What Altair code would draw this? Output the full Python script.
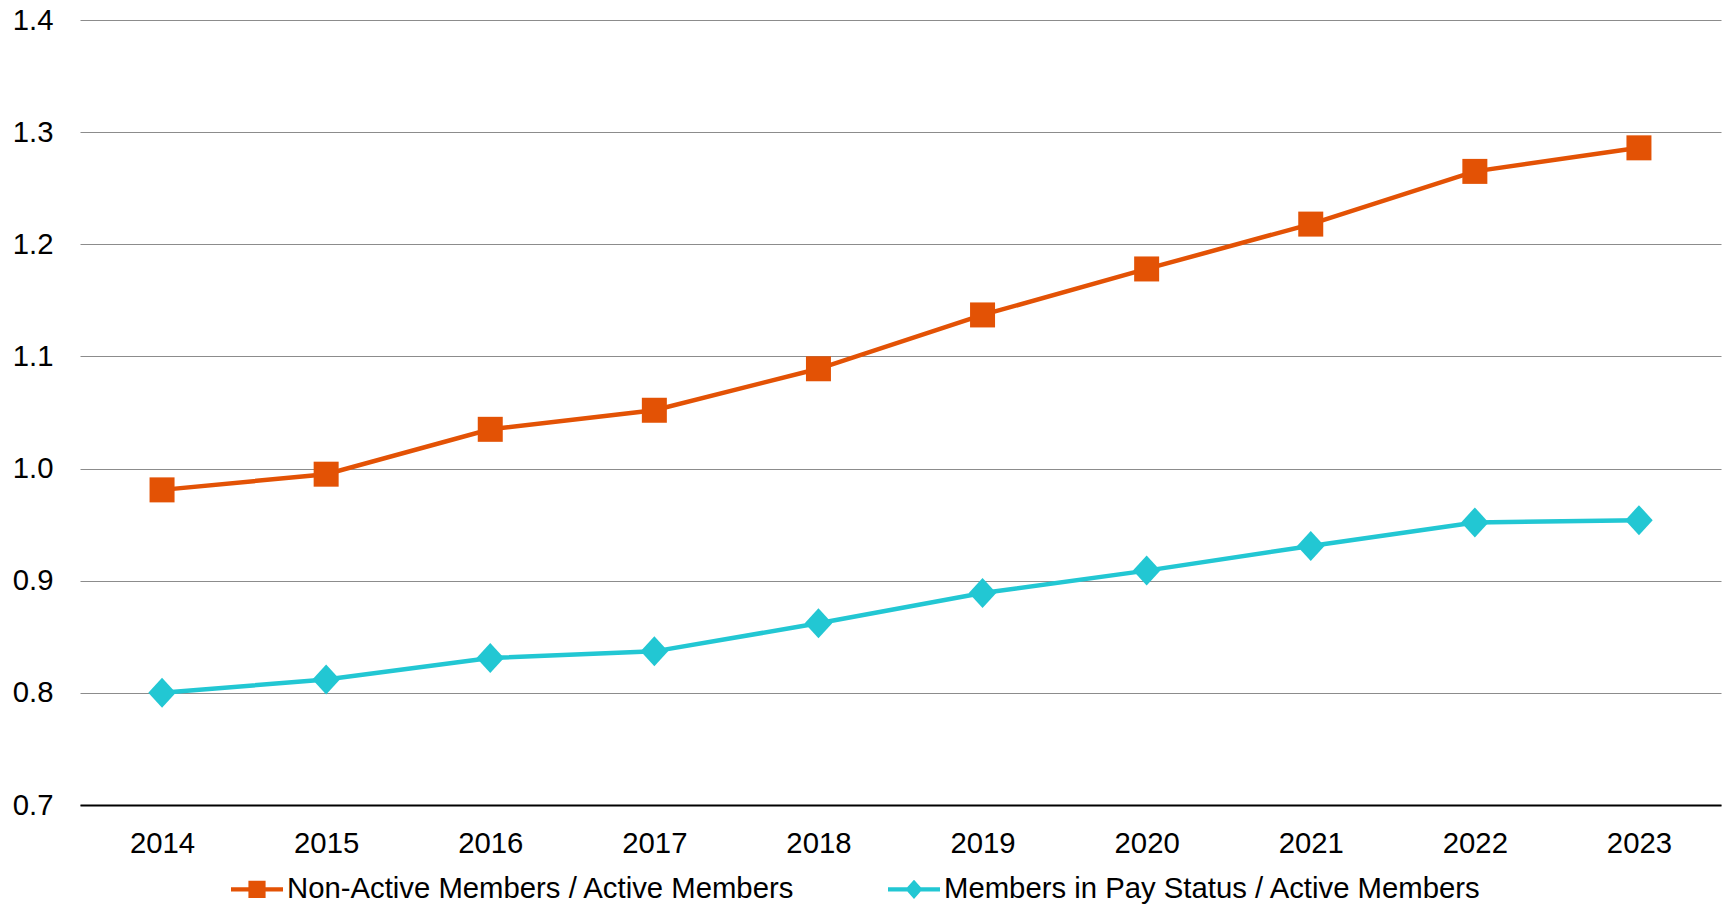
import altair as alt
import pandas as pd

years = ["2014", "2015", "2016", "2017", "2018", "2019", "2020", "2021", "2022", "2023"]
non_active = [0.981, 0.995, 1.035, 1.052, 1.089, 1.137, 1.178, 1.218, 1.265, 1.286]
pay_status = [0.800, 0.812, 0.831, 0.837, 0.862, 0.889, 0.909, 0.931, 0.952, 0.954]
series_names = ["Non-Active Members / Active Members", "Members in Pay Status / Active Members"]
colors = ["#E35205", "#22C7D3"]
y_ticks = [0.7, 0.8, 0.9, 1.0, 1.1, 1.2, 1.3, 1.4]

rows = []
for y, v in zip(years, non_active):
    rows.append({"year": y, "series": series_names[0], "value": v})
for y, v in zip(years, pay_status):
    rows.append({"year": y, "series": series_names[1], "value": v})
df = pd.DataFrame(rows)

FONT = "Liberation Sans"
FS = 29.3

x_enc = alt.X("year:O", title=None, sort=years,
              scale=alt.Scale(type="point", padding=0.5),
              axis=alt.Axis(labelAngle=0, ticks=False, domain=True, domainColor="#000000",
                            domainWidth=2, labelFontSize=FS, labelFont=FONT,
                            labelColor="#000000", labelPadding=24, grid=False))
y_enc = alt.Y("value:Q", title=None,
              scale=alt.Scale(domain=[0.7, 1.4], nice=False, zero=False),
              axis=alt.Axis(values=y_ticks, format=".1f", ticks=False, domain=False,
                            grid=True, gridColor="#8C8C8C", gridWidth=1,
                            labelFontSize=FS, labelFont=FONT, labelColor="#000000",
                            labelPadding=27))

base = alt.Chart(df)

layers = []
marker_shapes = ["square", "M0,-1.2L1.1,0L0,1.2L-1.1,0Z"]
for name, col in zip(series_names, colors):
    sub = base.transform_filter(alt.datum.series == name)
    layers.append(sub.mark_line(strokeWidth=4.5, color=col).encode(x=x_enc, y=y_enc))
for name, col, shp in zip(series_names, colors, marker_shapes):
    sub = base.transform_filter(alt.datum.series == name)
    layers.append(sub.mark_point(filled=True, opacity=1, shape=shp, size=625, color=col)
                  .encode(x=x_enc, y=y_enc))

sq_legend = "M-1,-0.085L1,-0.085L1,0.085L-1,0.085Z M-0.33,-0.33L0.33,-0.33L0.33,0.33L-0.33,0.33Z"
di_legend = "M-1,-0.085L1,-0.085L1,0.085L-1,0.085Z M0,-0.37L0.33,0L0,0.37L-0.33,0Z"

legend_kwargs = dict(
    title=None, orient="none", legendX=151, legendY=843, direction="horizontal",
    labelFontSize=FS, labelFont=FONT, labelColor="#000000", labelLimit=2000,
    labelOffset=4, columnPadding=93, symbolSize=2704, symbolStrokeWidth=0,
    padding=0,
)

legend_layer = base.transform_filter("false").mark_point(
    filled=True, opacity=1, size=2704
).encode(
    x=x_enc, y=y_enc,
    color=alt.Color("series:N", scale=alt.Scale(domain=series_names, range=colors),
                    legend=alt.Legend(**legend_kwargs)),
    shape=alt.Shape("series:N", scale=alt.Scale(domain=series_names, range=[sq_legend, di_legend]),
                    legend=alt.Legend(**legend_kwargs)),
)
layers.append(legend_layer)

chart = alt.layer(*layers).properties(
    width=1641, height=785,
    padding={"left": 80, "top": 20, "right": 2, "bottom": 99},
    autosize=alt.AutoSizeParams(type="none"),
    background="#FFFFFF",
).configure_view(stroke=None)

chart.save("out.html", embed_options={"renderer": "svg", "actions": False})
